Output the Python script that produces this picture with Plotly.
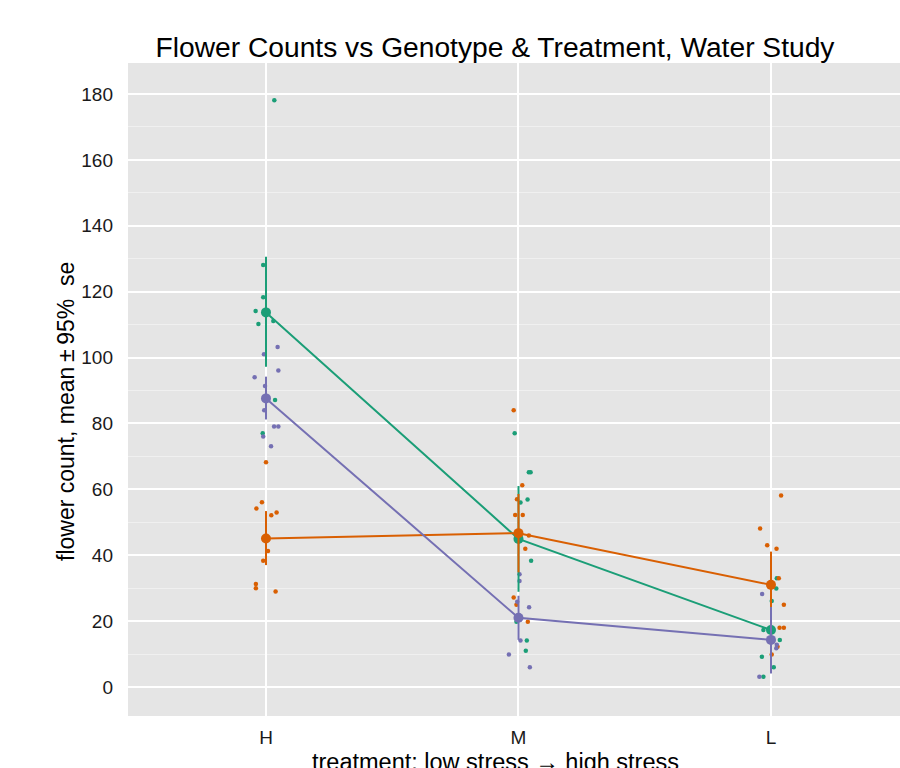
import plotly.graph_objects as go

# treatment levels on the x axis (low stress -> high stress)
treatments = ["H", "M", "L"]
trt_pos = {"H": 1, "M": 2, "L": 3}

genotypes = ["A", "B", "C"]
colors = {"A": "#1B9E77", "B": "#D95F02", "C": "#7570B3"}

# individual plant flower counts, with the horizontal jitter used for each point
a_trt = ["H"] * 8 + ["M"] * 10 + ["L"] * 8
a_count = [178.1, 128.1, 118.3, 114.1, 111.1, 110.2, 87.1, 77.0,
           77.0, 65.2, 65.2, 56.9, 56.0, 38.3, 19.8, 14.1, 11.0, 45.0,
           33.0, 29.9, 26.1, 17.3, 14.3, 9.2, 6.0, 3.1]
a_jit = [0.033, -0.011, -0.011, -0.041, 0.029, -0.030, 0.036, -0.013,
         -0.015, 0.041, 0.048, 0.036, 0.008, 0.050, -0.008, 0.033, 0.029, -0.009,
         0.023, 0.021, 0.003, -0.030, 0.035, -0.036, 0.011, -0.030]

b_trt = ["H"] * 10 + ["M"] * 10 + ["L"] * 10
b_count = [68.2, 56.1, 54.2, 53.0, 52.1, 41.3, 38.3, 31.3, 30.0, 29.0,
           84.0, 61.2, 57.0, 52.2, 52.2, 46.0, 42.0, 27.2, 25.0, 19.8,
           58.1, 48.1, 43.0, 42.0, 33.0, 25.0, 18.0, 18.0, 12.2, 9.9]
b_jit = [0.000, -0.016, -0.038, 0.042, 0.021, 0.008, -0.011, -0.040, -0.040, 0.038,
         -0.019, 0.015, -0.006, -0.013, 0.017, 0.041, 0.027, -0.019, -0.008, 0.037,
         0.040, -0.043, -0.015, 0.022, 0.031, 0.051, 0.034, 0.051, 0.026, 0.003]

c_trt = ["H"] * 10 + ["M"] * 7 + ["L"] * 4
c_count = [103.2, 101.0, 96.1, 94.0, 91.4, 84.0, 79.1, 79.1, 76.0, 73.1,
           34.2, 32.2, 25.9, 24.2, 14.1, 9.9, 6.0,
           28.2, 12.8, 11.8, 3.1]
c_jit = [0.046, -0.008, 0.049, -0.045, -0.004, -0.007, 0.032, 0.049, -0.011, 0.020,
         0.004, 0.004, -0.005, 0.042, 0.008, -0.038, 0.045,
         -0.035, 0.023, 0.021, -0.046]

# group means and 95% intervals per treatment (H, M, L)
a_mean = [113.7, 44.95, 17.3]
a_low = [97.2, 28.9, 8.6]
a_high = [130.6, 61.0, 26.1]

b_mean = [45.1, 46.7, 31.0]
b_low = [37.0, 34.8, 20.5]
b_high = [53.4, 58.6, 41.1]

c_mean = [87.6, 21.0, 14.3]
c_low = [81.2, 14.3, 4.1]
c_high = [94.2, 27.7, 24.3]

points = {"A": (a_trt, a_count, a_jit), "B": (b_trt, b_count, b_jit), "C": (c_trt, c_count, c_jit)}
summary = {"A": (a_mean, a_low, a_high), "B": (b_mean, b_low, b_high), "C": (c_mean, c_low, c_high)}

fig = go.Figure()

# jittered raw observations
for g in genotypes:
    trt, cnt, jit = points[g]
    fig.add_trace(go.Scatter(
        x=[trt_pos[t] + j for t, j in zip(trt, jit)], y=cnt,
        mode="markers", name=g, showlegend=False,
        marker=dict(color=colors[g], size=4.5, line=dict(width=0)),
        hoverinfo="skip"))

# means joined across treatments, with interval bars
for g in genotypes:
    m, lo, hi = summary[g]
    fig.add_trace(go.Scatter(
        x=[trt_pos[t] for t in treatments], y=m,
        mode="lines+markers", name=g, showlegend=False,
        line=dict(color=colors[g], width=2),
        marker=dict(color=colors[g], size=10),
        error_y=dict(type="data", symmetric=False,
                     array=[h - v for h, v in zip(hi, m)],
                     arrayminus=[v - l for v, l in zip(m, lo)],
                     color=colors[g], thickness=2, width=0)))

font_family = "Liberation Sans, Arial, sans-serif"

fig.update_layout(
    width=900, height=768,
    margin=dict(l=128, r=0, t=63, b=52),
    paper_bgcolor="white", plot_bgcolor="#E5E5E5",
    font=dict(family=font_family, color="#1a1a1a"),
    title=dict(text="Flower Counts vs Genotype &amp; Treatment, Water Study",
               font=dict(size=28.2, color="black"),
               x=0.55, xref="container", xanchor="center",
               y=1 - 47 / 768, yref="container", yanchor="middle"),
    xaxis=dict(range=[0.4535, 3.511], tickvals=[1, 2, 3], ticktext=treatments,
               showgrid=True, gridcolor="white", gridwidth=1.8, zeroline=False,
               ticks="", tickfont=dict(size=19, color="#1a1a1a"),
               ticklabelstandoff=8, showline=False),
    yaxis=dict(range=[-8.8, 189.4], tickvals=list(range(0, 181, 20)),
               showgrid=True, gridcolor="white", gridwidth=1.8, zeroline=False,
               minor=dict(tickvals=list(range(10, 190, 20)), showgrid=True,
                          gridcolor="#F0F0F0", gridwidth=0.9),
               ticks="", tickfont=dict(size=19, color="#1a1a1a"),
               ticklabelstandoff=14, showline=False),
    annotations=[
        dict(text="flower count, mean\u2009±\u200995%\u00a0 se", textangle=-90,
             xref="paper", yref="paper", x=(66 - 128) / 772, y=(716 - 412) / 653,
             xanchor="center", yanchor="middle", showarrow=False,
             font=dict(size=23, color="black")),
        dict(text="treatment: low stress \u2192 high stress",
             xref="paper", yref="paper", x=(495 - 128) / 772, y=(716 - 762) / 653,
             xanchor="center", yanchor="middle", showarrow=False,
             font=dict(size=23.5, color="black")),
    ],
)

fig.write_html("out.html")
